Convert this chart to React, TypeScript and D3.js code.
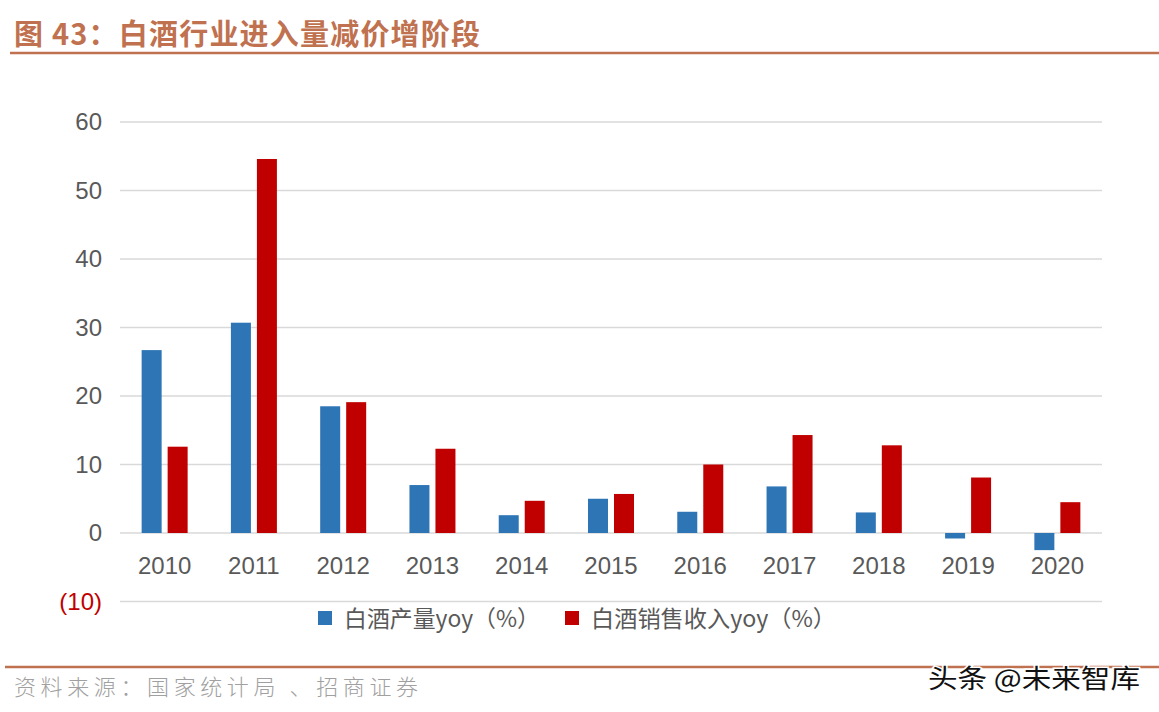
import React from "react";
import * as d3 from "d3";

const years = ["2010","2011","2012","2013","2014","2015","2016","2017","2018","2019","2020"];
const production = [26.7, 30.7, 18.5, 7.0, 2.6, 5.0, 3.1, 6.8, 3.0, -0.8, -2.5];
const revenue = [12.6, 54.6, 19.1, 12.3, 4.7, 5.7, 10.0, 14.3, 12.8, 8.1, 4.5];
const yTicks = [-10, 0, 10, 20, 30, 40, 50, 60];
const seriesNames = ["白酒产量yoy（%）", "白酒销售收入yoy（%）"];
const colors = ["#2e75b6", "#c00000"];

export default function App() {
  const W = 1159, H = 712;
  const x = d3.scaleBand().domain(years).range([120, 1102]).paddingInner(0).paddingOuter(0);
  const y = d3.scaleLinear().domain([-10, 60]).range([601.5, 122]);
  const barW = 20, gap = 6;
  const font = "'Liberation Sans', Arial, 'Noto Sans CJK SC', sans-serif";
  const cjk = "'Noto Sans CJK SC', sans-serif";
  const titleColor = "#c0714f";
  return (
    <svg width={W} height={H} style={{ position: "absolute", left: 0, top: 0, background: "#fff" }}>
      <text x={14} y={45} fontFamily={cjk} fontWeight={700} fontSize={29} fill={titleColor} textLength={466} lengthAdjust="spacing">图 43：白酒行业进入量减价增阶段</text>
      <line x1={10} x2={1159} y1={53} y2={53} stroke={titleColor} strokeWidth={2.5} />
      {yTicks.map(t => (
        <g key={t}>
          <line x1={120} x2={1102} y1={y(t)} y2={y(t)} stroke="#d9d9d9" strokeWidth={1.5} />
          <text x={102} y={y(t) + 8} textAnchor="end" fontFamily={font} fontSize={24} fill={t < 0 ? "#c00000" : "#595959"}>
            {t < 0 ? `(${Math.abs(t)})` : t}
          </text>
        </g>
      ))}
      {years.map((yr, i) => {
        const cx = (x(yr) as number) + x.bandwidth() / 2;
        const v1 = production[i], v2 = revenue[i];
        return (
          <g key={yr}>
            <rect x={cx - gap / 2 - barW} width={barW} y={y(Math.max(0, v1))} height={Math.abs(y(v1) - y(0))} fill={colors[0]} />
            <rect x={cx + gap / 2} width={barW} y={y(Math.max(0, v2))} height={Math.abs(y(v2) - y(0))} fill={colors[1]} />
            <text x={cx} y={574} textAnchor="middle" fontFamily={font} fontSize={24} fill="#595959">{yr}</text>
          </g>
        );
      })}
      <rect x={318} y={611} width={14} height={14} fill={colors[0]} />
      <text x={344} y={627} fontFamily={cjk} fontSize={23} fill="#595959" textLength={196} lengthAdjust="spacingAndGlyphs">{seriesNames[0]}</text>
      <rect x={565} y={611} width={14} height={14} fill={colors[1]} />
      <text x={591} y={627} fontFamily={cjk} fontSize={23} fill="#595959" textLength={245} lengthAdjust="spacingAndGlyphs">{seriesNames[1]}</text>
      <line x1={5} x2={1159} y1={667} y2={667} stroke={titleColor} strokeWidth={2.5} />
      <text x={14} y={695} fontFamily="'Noto Sans CJK SC', serif" fontSize={22} fontWeight={300} fill="#a0a0a0" textLength={404} lengthAdjust="spacing">资料来源：国家统计局 、招商证券</text>
      <text x={928} y={688} fontFamily={cjk} fontSize={26} fill="#111" stroke="#fff" strokeWidth={3} paintOrder="stroke" textLength={212} lengthAdjust="spacingAndGlyphs">头条 @未来智库</text>
    </svg>
  );
}
